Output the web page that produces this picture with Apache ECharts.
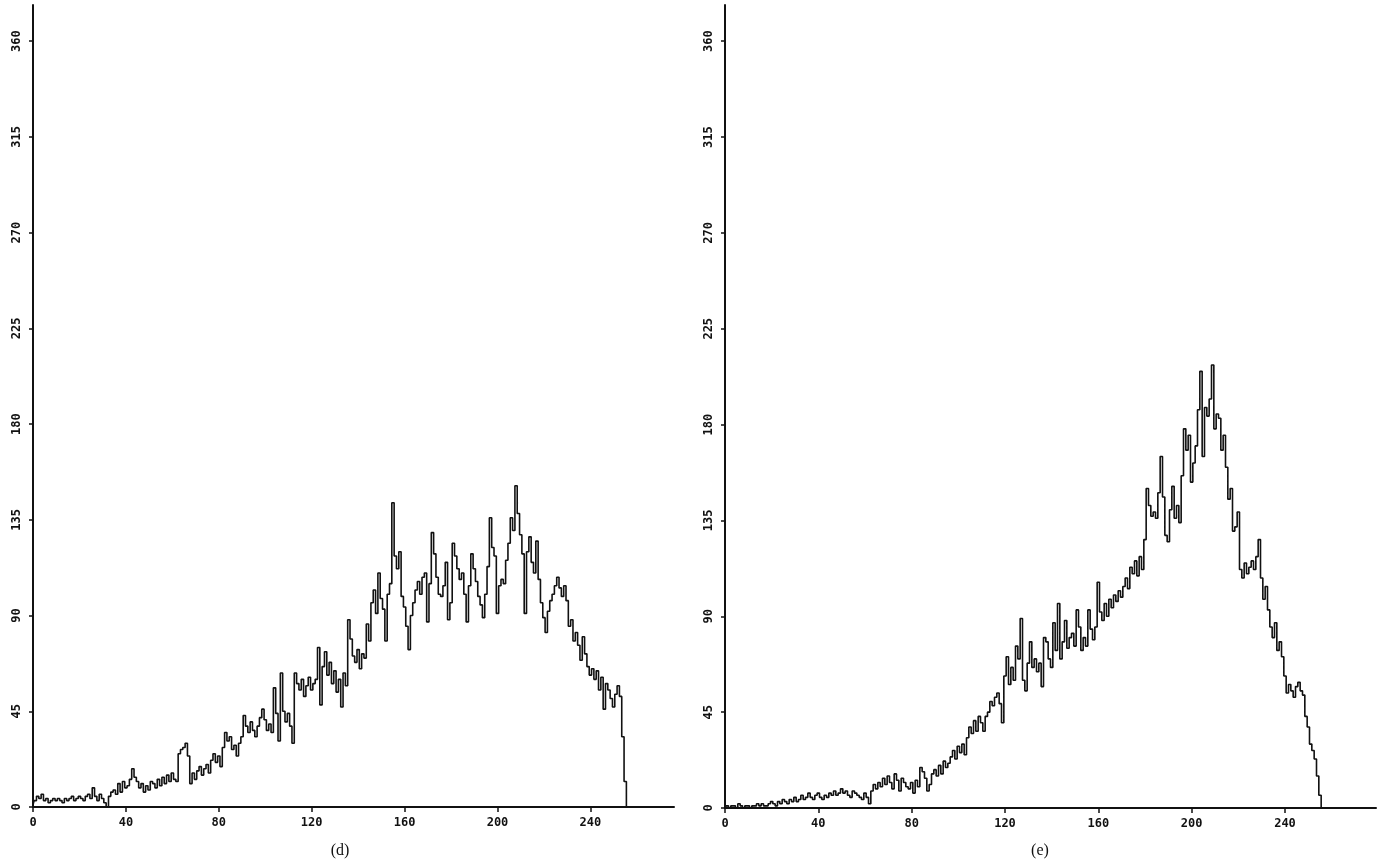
<!DOCTYPE html>
<html>
<head>
<meta charset="utf-8">
<script src="https://cdn.jsdelivr.net/npm/echarts@6/dist/echarts.min.js"></script>
<style>
html,body{margin:0;padding:0;background:#fff;}
#chart{width:1381px;height:864px;}
</style>
</head>
<body>
<div id="chart"></div>
<script>
// Grey-level histograms, bins 0..255
const xTicks = [0, 40, 80, 120, 160, 200, 240];
const yTicks = [0, 45, 90, 135, 180, 225, 270, 315, 360];
const captions = ['(d)', '(e)'];

const dValues = [
  1, 3, 5, 4, 6, 3, 4, 2, 3, 4,
  3, 4, 3, 2, 4, 3, 4, 5, 3, 4,
  5, 4, 3, 5, 6, 4, 9, 5, 3, 6,
  4, 2, 0, 5, 7, 8, 6, 11, 7, 12,
  9, 10, 13, 18, 14, 12, 9, 11, 7, 10,
  8, 12, 11, 9, 13, 10, 14, 11, 15, 12,
  16, 13, 12, 25, 27, 28, 30, 24, 11, 16,
  13, 17, 19, 15, 18, 20, 16, 22, 25, 21,
  24, 19, 28, 35, 31, 33, 27, 29, 24, 30,
  33, 43, 38, 35, 40, 36, 33, 38, 42, 46,
  41, 36, 39, 35, 56, 44, 31, 63, 45, 40,
  44, 38, 30, 63, 58, 55, 60, 52, 57, 61,
  55, 58, 60, 75, 48, 66, 73, 62, 68, 58,
  64, 54, 60, 47, 63, 57, 88, 79, 71, 68,
  74, 65, 72, 70, 86, 78, 96, 102, 91, 110,
  98, 93, 78, 100, 105, 143, 118, 112, 120, 99,
  94, 85, 74, 90, 96, 102, 106, 100, 108, 110,
  87, 105, 129, 119, 108, 100, 99, 104, 115, 88,
  96, 124, 118, 112, 107, 110, 100, 87, 104, 119,
  112, 106, 99, 95, 89, 100, 113, 136, 122, 118,
  91, 104, 107, 105, 116, 124, 136, 130, 151, 138,
  128, 119, 91, 120, 127, 115, 110, 125, 107, 96,
  89, 82, 92, 97, 100, 104, 108, 103, 99, 104,
  97, 85, 88, 78, 82, 76, 69, 80, 72, 66,
  62, 65, 60, 64, 55, 61, 46, 58, 55, 51,
  47, 53, 57, 52, 33, 12, 0
];

const eValues = [
  0, 1, 0, 1, 1, 0, 2, 1, 0, 1,
  1, 0, 1, 1, 2, 1, 2, 1, 1, 2,
  3, 2, 1, 3, 2, 4, 3, 2, 4, 3,
  5, 3, 4, 6, 4, 5, 7, 5, 4, 6,
  7, 5, 4, 6, 5, 7, 6, 8, 6, 7,
  9, 7, 8, 6, 5, 8, 7, 6, 5, 4,
  7, 5, 2, 8, 11, 9, 12, 10, 14, 11,
  15, 12, 9, 16, 13, 8, 14, 12, 10, 9,
  12, 7, 13, 10, 19, 17, 14, 8, 11, 16,
  18, 15, 20, 16, 22, 19, 21, 24, 27, 23,
  29, 26, 30, 25, 33, 38, 35, 41, 36, 43,
  40, 36, 43, 45, 50, 48, 52, 54, 49, 40,
  62, 71, 58, 66, 60, 76, 70, 89, 60, 55,
  68, 78, 66, 70, 64, 68, 57, 80, 78, 70,
  66, 87, 74, 96, 70, 78, 88, 75, 80, 82,
  76, 93, 85, 74, 80, 76, 93, 84, 79, 85,
  106, 92, 88, 96, 90, 98, 94, 100, 97, 102,
  99, 104, 108, 103, 113, 110, 116, 109, 118, 112,
  126, 150, 142, 137, 139, 136, 148, 165, 146, 128,
  125, 140, 151, 136, 142, 134, 156, 178, 168, 175,
  153, 162, 170, 187, 205, 165, 188, 184, 192, 208,
  178, 185, 183, 168, 175, 160, 145, 150, 130, 132,
  139, 112, 108, 115, 110, 113, 116, 112, 118, 126,
  108, 98, 104, 93, 85, 80, 87, 74, 78, 71,
  62, 54, 58, 55, 52, 57, 59, 55, 53, 43,
  38, 30, 27, 23, 15, 6, 0
];

const labelFont = {
  fontFamily: 'DejaVu Sans Mono',
  fontWeight: 'bold',
  fontSize: 12,
  color: '#111'
};

function mkX(idx, max) {
  return {
    type: 'value', gridIndex: idx, min: 0, max: max,
    axisLine: {show: true, onZero: false, lineStyle: {color: '#111', width: 2}},
    axisTick: {show: true, customValues: xTicks, length: 5, lineStyle: {color: '#111', width: 1.5}},
    axisLabel: Object.assign({customValues: xTicks, margin: 10}, labelFont),
    splitLine: {show: false}
  };
}
function mkY(idx) {
  return {
    type: 'value', gridIndex: idx, min: 0, max: 377,
    axisLine: {show: true, onZero: false, lineStyle: {color: '#111', width: 2}},
    axisTick: {show: true, customValues: yTicks, length: 4, lineStyle: {color: '#111', width: 1.5}},
    axisLabel: Object.assign({customValues: yTicks, rotate: 90, margin: 10}, labelFont),
    splitLine: {show: false}
  };
}
function mkSeries(idx, vals) {
  return {
    type: 'line', xAxisIndex: idx, yAxisIndex: idx,
    step: 'middle', showSymbol: false, symbol: 'none',
    lineStyle: {color: '#111', width: 1.6},
    animation: false,
    data: vals.map((v, i) => [i, v])
  };
}

const chart = echarts.init(document.getElementById('chart'), null, {renderer: 'canvas'});
chart.setOption({
  backgroundColor: '#ffffff',
  animation: false,
  grid: [
    {left: 33, top: 5, width: 641, height: 802},
    {left: 725, top: 5, width: 651, height: 803}
  ],
  xAxis: [mkX(0, 276), mkX(1, 279)],
  yAxis: [mkY(0), mkY(1)],
  series: [mkSeries(0, dValues), mkSeries(1, eValues)],
  graphic: [
    {type: 'text', x: 340, y: 843, style: {text: captions[0], fontFamily: 'Liberation Serif', fontSize: 16, fill: '#111', textAlign: 'center'}},
    {type: 'text', x: 1040, y: 843, style: {text: captions[1], fontFamily: 'Liberation Serif', fontSize: 16, fill: '#111', textAlign: 'center'}}
  ]
});
</script>
</body>
</html>
